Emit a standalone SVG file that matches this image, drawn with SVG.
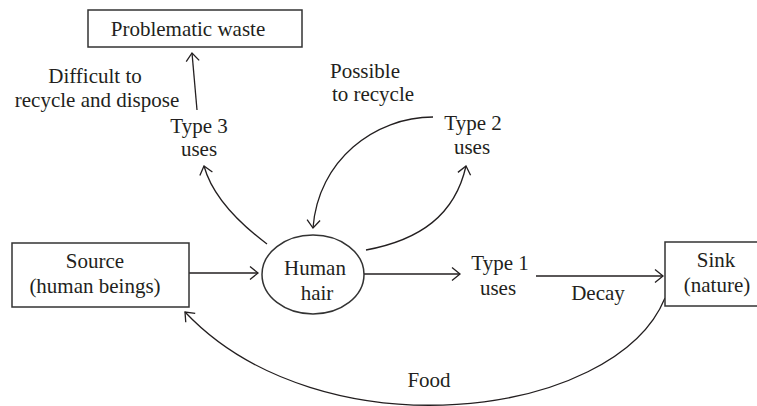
<svg xmlns="http://www.w3.org/2000/svg" width="757" height="406" viewBox="0 0 757 406">
<defs>
<style>
.box{fill:#fff;stroke:#333;stroke-width:1.5}
.c{fill:none;stroke:#231f20;stroke-width:1.3;marker-end:url(#a)}
.t{font-family:"Liberation Serif","Times New Roman",serif;font-size:21px;fill:#231f20;text-anchor:middle}
</style>
<marker id="a" viewBox="-10 -8 12 16" refX="0" refY="0" markerWidth="12" markerHeight="16" markerUnits="userSpaceOnUse" orient="auto">
<path d="M-8,-6.5 L0,0 L-8,6.5" fill="none" stroke="#231f20" stroke-width="1.3"/>
</marker>
</defs>
<rect width="757" height="406" fill="#fff"/>
<g id="connectors">
<path class="c" d="M197,110 L192,53"/>
<path class="c" d="M267,244 C235,220 212,195 204,166"/>
<path class="c" d="M366,250 C420,240 455,215 466,166"/>
<path class="c" d="M433,117 C375,117 318,160 313,228"/>
<path class="c" d="M189,273 L258,273"/>
<path class="c" d="M364,274 L460,274"/>
<path class="c" d="M536,276 L663,276"/>
<path class="c" d="M665,298 C615,420 320,455 185,312"/>
</g>
<g id="problematic">
<rect class="box" x="88" y="10" width="214" height="37"/>
<text class="t" x="188" y="36" font-family="Liberation Serif">Problematic waste</text>
</g>
<g id="source">
<rect class="box" x="12" y="243" width="177" height="64"/>
<text class="t" x="95" y="268" font-family="Liberation Serif">Source</text>
<text class="t" x="95" y="293" font-family="Liberation Serif">(human beings)</text>
</g>
<g id="hair">
<ellipse class="box" cx="313" cy="274.5" rx="51" ry="39.5"/>
<text class="t" x="315" y="275" font-family="Liberation Serif">Human</text>
<text class="t" x="317" y="300" font-family="Liberation Serif">hair</text>
</g>
<g id="sink">
<rect class="box" x="665" y="242" width="100" height="64"/>
<text class="t" x="716" y="267" font-family="Liberation Serif">Sink</text>
<text class="t" x="717" y="292" font-family="Liberation Serif">(nature)</text>
</g>
<g id="type1">
<text class="t" x="500" y="270" font-family="Liberation Serif">Type 1</text>
<text class="t" x="498" y="295" font-family="Liberation Serif">uses</text>
</g>
<g id="type2">
<text class="t" x="473" y="130" font-family="Liberation Serif">Type 2</text>
<text class="t" x="472" y="154" font-family="Liberation Serif">uses</text>
</g>
<g id="type3">
<text class="t" x="199" y="133" font-family="Liberation Serif">Type 3</text>
<text class="t" x="199" y="156" font-family="Liberation Serif">uses</text>
</g>
<g id="labels">
<text class="t" x="95" y="83" font-family="Liberation Serif">Difficult to</text>
<text class="t" x="97" y="107" font-family="Liberation Serif">recycle and dispose</text>
<text class="t" x="365" y="78" font-family="Liberation Serif">Possible</text>
<text class="t" x="373" y="101" font-family="Liberation Serif">to recycle</text>
<text class="t" x="598" y="300" font-family="Liberation Serif">Decay</text>
<text class="t" x="429" y="387" font-family="Liberation Serif">Food</text>
</g>
</svg>
